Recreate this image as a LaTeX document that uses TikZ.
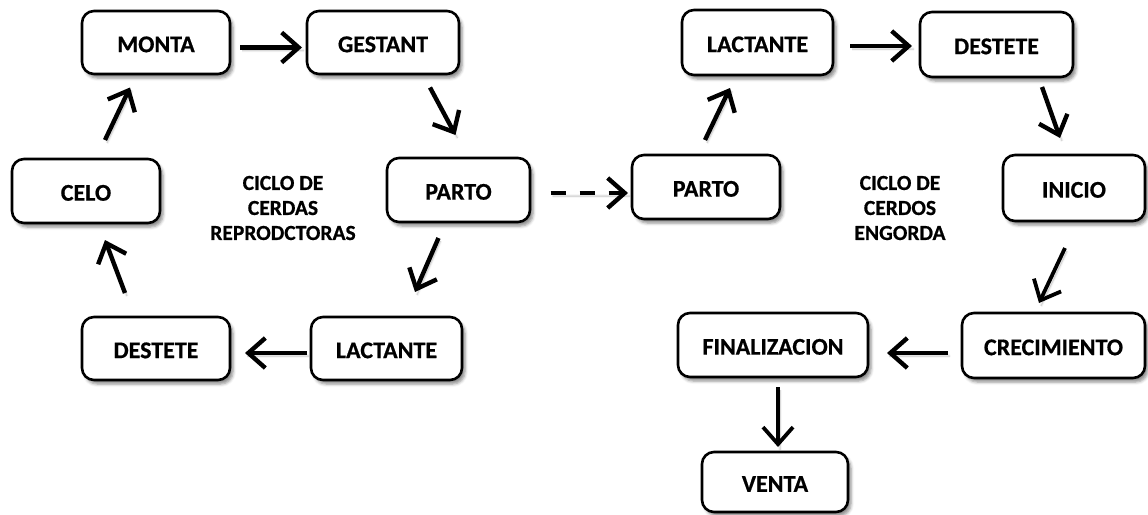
\documentclass[tikz,border=0pt]{standalone}
\usepackage{fontspec}
\setmainfont{Carlito}[BoldFeatures={FakeBold=0.6}]
\usetikzlibrary{arrows.meta,calc,shadows.blur}
\begin{document}
\begin{tikzpicture}[x=1pt,y=-1pt,
  box/.style={draw=black, line width=2.6pt, rounded corners=12pt, fill=white,
    minimum height=63pt, inner sep=0pt, text height=19.5pt,
    font=\bfseries\fontsize{24}{28}\selectfont,
    blur shadow={shadow xshift=3pt, shadow yshift=-4pt, shadow blur radius=3pt, shadow opacity=45}},
  arr/.style={line width=4.4pt, -{Straight Barb[length=17pt,width=30pt]},
    blur shadow={shadow xshift=2pt, shadow yshift=-3pt, shadow opacity=30}},
  lbl/.style={align=center, font=\bfseries\fontsize{21.5}{25}\selectfont}]
\useasboundingbox (0,0) rectangle (1148,514);
% left cycle
\node[box, minimum width=148pt] (monta) at (156,42.5) {MONTA};
\node[box, minimum width=152pt] (gest) at (383,42.5) {GESTANT};
\node[box, minimum width=148pt, minimum height=64pt] (celo) at (86,191) {CELO};
\node[box, minimum width=143pt, minimum height=64pt] (partoA) at (458.5,190) {PARTO};
\node[box, minimum width=151pt] (lactA) at (386.5,348.5) {LACTANTE};
\node[box, minimum width=148pt] (destA) at (156,348.5) {DESTETE};
% right cycle
\node[box, minimum width=148pt, minimum height=64pt] (partoB) at (706,187) {PARTO};
\node[box, minimum width=151pt, minimum height=65pt] (lactB) at (757.5,42.5) {LACTANTE};
\node[box, minimum width=153pt, minimum height=65pt] (destB) at (996.5,44.5) {DESTETE};
\node[box, minimum width=142pt, minimum height=66pt] (inicio) at (1074,188) {INICIO};
\node[box, minimum width=183pt, minimum height=65pt] (crec) at (1053.5,345.5) {CRECIMIENTO};
\node[box, minimum width=190pt, minimum height=64pt] (fin) at (773,345) {FINALIZACION};
\node[box, minimum width=146pt, minimum height=60pt] (venta) at (775,482) {VENTA};
% labels
\node[lbl] (lblA) at (283,208) {CICLO DE\\CERDAS\\REPRODCTORAS};
\node[lbl] (lblB) at (900,208) {CICLO DE\\CERDOS\\ENGORDA};
% arrows left
\draw[arr] ($(monta.center)+(84,5)$) -- ($(gest.center)+(-81,5)$);
\draw[arr] ($(gest.center)+(47,45)$) -- ($(partoA.center)+(-3,-55)$);
\draw[arr] ($(partoA.center)+(-20,48)$) -- ($(lactA.center)+(28.5,-56.5)$);
\draw[arr] ($(lactA.center)+(-79.5,4.5)$) -- ($(destA.center)+(89,4.5)$);
\draw[arr] ($(destA.center)+(-31,-55.5)$) -- ($(celo.center)+(19,49)$);
\draw[arr] ($(celo.center)+(19,-51)$) -- ($(monta.center)+(-26,45)$);
% dashed link
\draw[arr, dash pattern=on 15pt off 14pt] ($(partoA.center)+(92,3)$) -- ($(partoB.center)+(-78,6)$);
% arrows right
\draw[arr] ($(partoB.center)+(-1,-47)$) -- ($(lactB.center)+(-27.5,45.5)$);
\draw[arr] ($(lactB.center)+(92.5,3.5)$) -- ($(destB.center)+(-84.5,1.5)$);
\draw[arr] ($(destB.center)+(45.5,42.5)$) -- ($(inicio.center)+(-14,-50)$);
\draw[arr, line width=3.8pt] ($(inicio.center)+(-9,60)$) -- ($(crec.center)+(-14.5,-42.5)$);
\draw[arr] ($(crec.center)+(-105.5,7.5)$) -- ($(fin.center)+(114,8)$);
\draw[arr, line width=3.8pt] ($(fin.center)+(5,42)$) -- ($(venta.center)+(3,-35)$);
\end{tikzpicture}
\end{document}
